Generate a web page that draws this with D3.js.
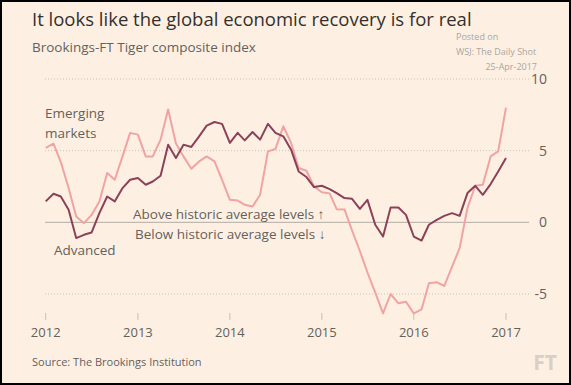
<!DOCTYPE html>
<html>
<head>
<meta charset="utf-8">
<script src="https://cdn.jsdelivr.net/npm/d3@7"></script>
<style>
  html, body { margin: 0; padding: 0; background: #fff; }
  svg { display: block; }
  text { font-family: "Open Sans", sans-serif; }
</style>
</head>
<body>
<svg width="571" height="385"></svg>
<script>
"use strict";

// monthly readings, Jan 2012 .. Jan 2017
var startMonth = new Date(2012, 0, 1);

var advanced = [
  1.46, 1.99, 1.8, 0.87, -1.1, -0.87, -0.71, 0.64, 1.8, 1.46, 2.39, 2.97,
  3.09, 2.62, 2.85, 3.25, 5.42, 4.49, 5.42, 5.26, 6.0, 6.75, 7.0, 6.87,
  5.54, 6.24, 5.72, 6.3, 5.77, 6.87, 6.24, 6.0, 5.07, 3.55, 3.16, 2.46,
  2.55, 2.32, 2.04, 1.69, 1.64, 0.94, 1.57, -0.17, -0.99, 1.04, 1.04, 0.52,
  -0.99, -1.27, -0.17, 0.17, 0.45, 0.64, 0.45, 2.04, 2.55, 1.92, 2.67, 3.55,
  4.49
];

var emerging = [
  5.19, 5.49, 4.2, 2.4, 0.4, -0.06, 0.52, 1.46, 3.44, 2.97, 4.6, 6.24,
  6.12, 4.6, 4.6, 5.77, 7.87, 5.5, 4.6, 3.74, 4.25, 4.6, 4.25, 2.97,
  1.57, 1.52, 1.22, 1.1, 1.92, 4.95, 5.12, 6.7, 5.54, 3.79, 3.6, 2.5,
  2.1, 2.02, 0.92, 0.9, -0.57, -2.0, -3.5, -4.9, -6.35, -5.0, -5.65, -5.54,
  -6.35, -6.07, -4.25, -4.18, -4.44, -3.09, -1.8, 1.0, 2.55, 2.62, 4.6, 4.95,
  8.0
];

var yTicks = [10, 5, 0, -5];
var xYears = [2012, 2013, 2014, 2015, 2016, 2017];

var svg = d3.select("svg"),
    width = 571,
    height = 385;

var bg = "#fdf0e2",
    textCol = "#66605c",
    dark = "#8b4159",
    pink = "#f0a3a2";

svg.append("rect")
    .attr("x", 1).attr("y", 1)
    .attr("width", width - 2).attr("height", height - 2)
    .attr("fill", bg)
    .attr("stroke", "#000")
    .attr("stroke-width", 2);

var x = d3.scaleTime()
    .domain([new Date(2012, 0, 1), new Date(2017, 0, 1)])
    .range([45.7, 506]);

var y = d3.scaleLinear()
    .domain([-5, 10])
    .range([294, 79]);

var toDate = function(i) { return d3.timeMonth.offset(startMonth, i); };

// gridlines
var grid = svg.append("g");
grid.selectAll("line")
    .data(yTicks)
    .enter().append("line")
    .attr("x1", 45).attr("x2", 529)
    .attr("y1", d => y(d)).attr("y2", d => y(d))
    .attr("stroke", d => d === 0 ? "#b3aca5" : "#c9c0b8")
    .attr("stroke-width", 1)
    .attr("stroke-dasharray", d => d === 0 ? null : "1,2");

grid.selectAll("text")
    .data(yTicks)
    .enter().append("text")
    .attr("x", 547)
    .attr("y", d => y(d))
    .attr("dy", "0.35em")
    .attr("text-anchor", "end")
    .attr("fill", textCol)
    .attr("font-size", 14)
    .text(d => d < 0 ? "-" + Math.abs(d) : d);

// x axis
var xAxis = svg.append("g");
xAxis.selectAll("line")
    .data(xYears)
    .enter().append("line")
    .attr("x1", d => x(new Date(d, 0, 1))).attr("x2", d => x(new Date(d, 0, 1)))
    .attr("y1", 313).attr("y2", 320)
    .attr("stroke", "#c9c0b8");

xAxis.selectAll("text")
    .data(xYears)
    .enter().append("text")
    .attr("x", d => x(new Date(d, 0, 1)))
    .attr("y", 337)
    .attr("text-anchor", "middle")
    .attr("fill", textCol)
    .attr("font-size", 13)
    .text(d => d);

// lines
var line = d3.line()
    .x((d, i) => x(toDate(i)))
    .y(d => y(d));

svg.append("path")
    .datum(emerging)
    .attr("d", line)
    .attr("fill", "none")
    .attr("stroke", pink)
    .attr("stroke-width", 2)
    .attr("stroke-linejoin", "round");

svg.append("path")
    .datum(advanced)
    .attr("d", line)
    .attr("fill", "none")
    .attr("stroke", dark)
    .attr("stroke-width", 2)
    .attr("stroke-linejoin", "round");

// titles
svg.append("text")
    .attr("x", 32).attr("y", 26)
    .attr("fill", "#33302e")
    .attr("font-size", 18.5)
    .text("It looks like the global economic recovery is for real");

svg.append("text")
    .attr("x", 32).attr("y", 52)
    .attr("fill", textCol)
    .attr("font-size", 13.5)
    .text("Brookings-FT Tiger composite index");

var posted = svg.append("g")
    .attr("fill", "#a9a6a3")
    .attr("font-size", 9)
    .attr("font-family", "Liberation Sans, Arial, sans-serif");
posted.append("text").attr("x", 456).attr("y", 40).text("Posted on");
posted.append("text").attr("x", 456).attr("y", 55).text("WSJ: The Daily Shot");
posted.append("text").attr("x", 537).attr("y", 70).attr("text-anchor", "end").text("25-Apr-2017");

// annotations
var notes = svg.append("g")
    .attr("fill", textCol)
    .attr("font-size", 13.5);
notes.append("text").attr("x", 45).attr("y", 118).text("Emerging");
notes.append("text").attr("x", 45).attr("y", 138).text("markets");
notes.append("text").attr("x", 54).attr("y", 255).text("Advanced");
notes.append("text").attr("x", 133).attr("y", 219).text("Above historic average levels \u2191");
notes.append("text").attr("x", 135).attr("y", 239).text("Below historic average levels \u2193");

svg.append("text")
    .attr("x", 32).attr("y", 366)
    .attr("fill", textCol)
    .attr("font-size", 11)
    .text("Source: The Brookings Institution");

svg.append("text")
    .attr("x", 557).attr("y", 370)
    .attr("text-anchor", "end")
    .attr("fill", "#d9cfc6")
    .attr("font-size", 21)
    .attr("font-weight", "bold")
    .attr("font-family", "Liberation Serif, serif")
    .text("FT");
</script>
</body>
</html>
